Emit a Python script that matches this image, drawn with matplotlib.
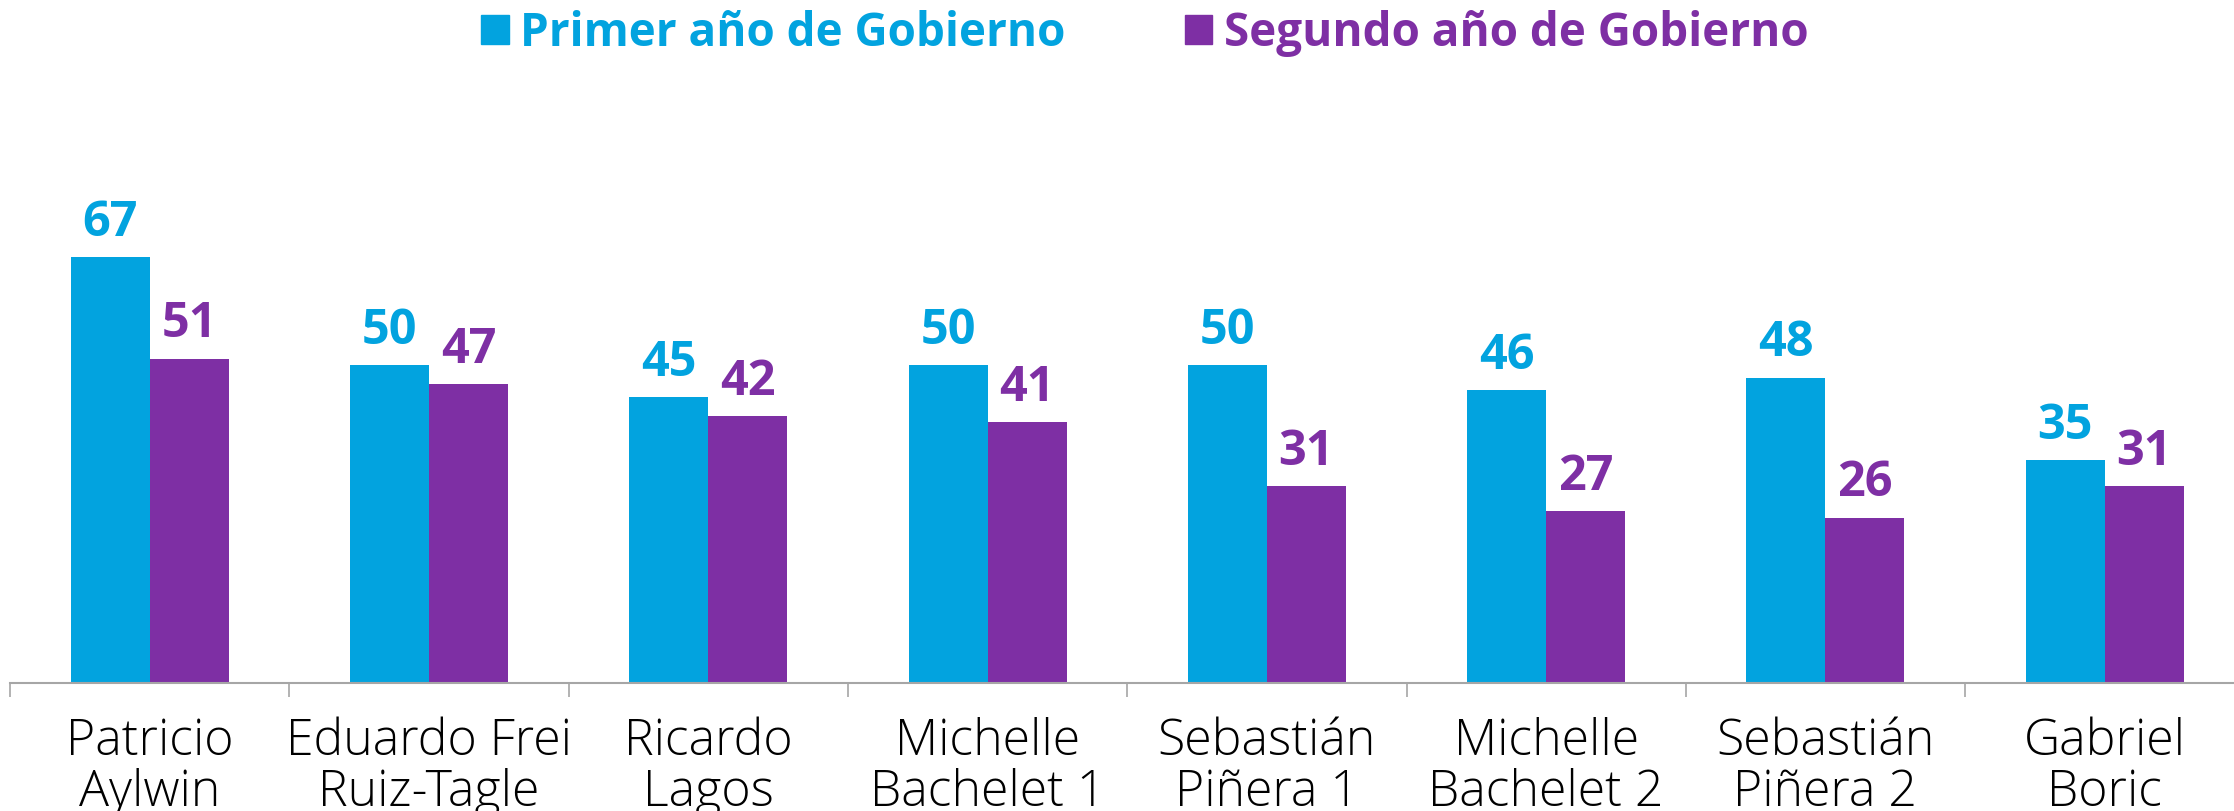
import matplotlib.pyplot as plt
import numpy as np
from matplotlib.patches import Patch

# datos
presidentes = ['Patricio\nAylwin', 'Eduardo Frei\nRuiz-Tagle', 'Ricardo\nLagos',
               'Michelle\nBachelet 1', 'Sebastián\nPiñera 1', 'Michelle\nBachelet 2',
               'Sebastián\nPiñera 2', 'Gabriel\nBoric']
primer_anio = [67, 50, 45, 50, 50, 46, 48, 35]
segundo_anio = [51, 47, 42, 41, 31, 27, 26, 31]
series = ['Primer año de Gobierno', 'Segundo año de Gobierno']

azul = '#02A3DF'
morado = '#7E2FA4'
gris = '#A6A6A6'

W, H = 2234, 812
fig = plt.figure(figsize=(W / 100, H / 100), dpi=100)
# eje: x=-0.5 en px 10, paso 279.3 px por categoria; y=0 en px 684
ax = fig.add_axes([10 / W, 128 / H, 8 * 279.3 / W, 684 / H])

x = np.arange(len(presidentes))
w = 0.283
b1 = ax.bar(x - w / 2, primer_anio, w, color=azul)
b2 = ax.bar(x + w / 2, segundo_anio, w, color=morado)

num_font = 'Open Sans'
for bars, vals, col in [(b1, primer_anio, azul), (b2, segundo_anio, morado)]:
    for r, v in zip(bars, vals):
        ax.annotate(str(v), (r.get_x() + r.get_width() / 2, v), xytext=(0, 16),
                    textcoords='offset points', ha='center', va='baseline',
                    fontsize=35, fontweight='bold', color=col, family=num_font)

ax.set_xlim(-0.5, len(presidentes) - 0.5)
ax.set_ylim(0, 684 / 6.36)

ax.set_xticks(x)
ax.set_xticklabels(presidentes, fontsize=36, family='Open Sans', fontweight=300,
                   linespacing=1.02)
ax.tick_params(axis='x', which='major', length=0, pad=24)
ax.set_xticks(np.arange(len(presidentes) + 1) - 0.5, minor=True)
ax.tick_params(axis='x', which='minor', length=10, width=1.2, color=gris)
ax.set_yticks([])
for s in ['top', 'right', 'left']:
    ax.spines[s].set_visible(False)
ax.spines['bottom'].set_color(gris)
ax.spines['bottom'].set_linewidth(1.5)

handles = [Patch(color=azul), Patch(color=morado)]
leg = fig.legend(handles, series, loc='upper center', bbox_to_anchor=(1145 / W, 1.038),
                 ncol=2, frameon=False, handlelength=0.6, handleheight=0.6,
                 handletextpad=0.25, columnspacing=2.6,
                 prop={'family': 'Open Sans', 'weight': 'bold', 'size': 33})
for t, c in zip(leg.get_texts(), [azul, morado]):
    t.set_color(c)

fig.savefig('out.png', dpi=100)
